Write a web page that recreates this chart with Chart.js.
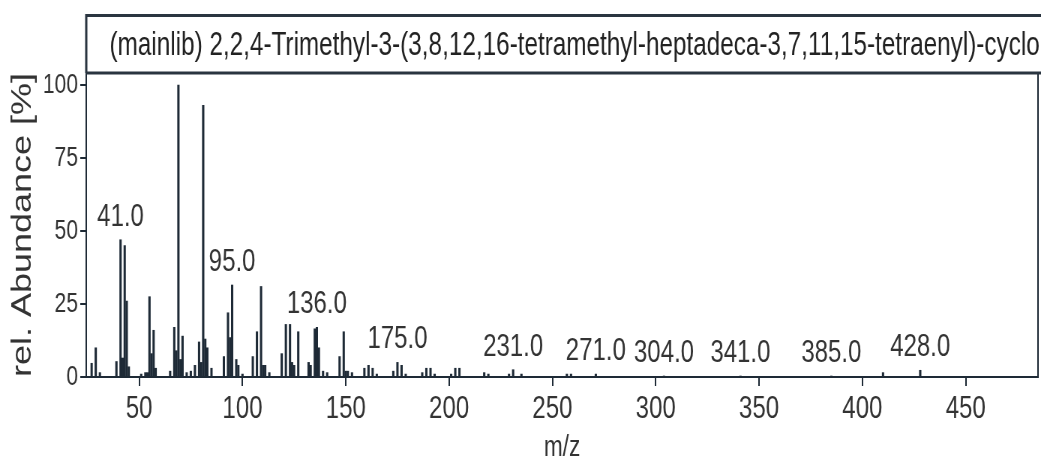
<!DOCTYPE html>
<html><head><meta charset="utf-8">
<script src="https://cdn.jsdelivr.net/npm/chart.js@4.4.0/dist/chart.umd.min.js"></script>
<style>
html,body{margin:0;padding:0;background:#fff;overflow:hidden;width:1041px;height:463px;}
#wrap{position:absolute;left:0;top:0;width:1388px;height:463px;transform:scaleX(0.75);transform-origin:0 0;}
canvas{display:block;}
</style></head><body>
<div id="wrap"><canvas id="c" width="1388" height="463" style="width:1388px;height:463px"></canvas></div>
<script>
const titleText = "(mainlib) 2,2,4-Trimethyl-3-(3,8,12,16-tetramethyl-heptadeca-3,7,11,15-tetraenyl)-cyclo";
const mzValues = [27,29,31,39,41,42,43,44,45,51,53,54,55,56,57,58,65,67,68,69,70,71,73,75,77,79,80,81,82,83,85,91,93,94,95,97,98,100,105,107,109,110,111,113,119,121,123,124,125,127,132,133,135,136,137,139,141,147,149,150,151,153,159,161,163,165,173,175,177,179,187,189,191,193,201,203,205,217,219,229,231,235,257,259,271,304,341,385,410,428];
const abundances = [4.7,10,1.5,5.3,47,6.5,45,26,3.5,1,1.5,1.5,27.5,8,16,3,2,17,9,100,6,14,1.5,2,4,12,5,93,13,10,3,7,22,13.5,31.5,6,4,1,7,15.5,31,4,4,1.5,8,18,18,5,4,15.5,5,4,16.5,17,10,2,1.5,7,15.5,2,2,1.5,3,4,3,1,2,5,4,1,1.5,3,3,1,1,3,3,1.5,1,1,2.5,1,1,1,1,0.3,0.3,0.3,1.5,2.3];
const labeledPeaks = [41,95,136,175,231,271,304,341,385,428];
const xTicks = [50,100,150,200,250,300,350,400,450];
const yTicks = [0,25,50,75,100];
const xTitle = "m/z";
const yTitle = "rel. Abundance [%]";

const FONT = "'Liberation Sans', Arial, Helvetica, sans-serif";
const TEXT = '#333333';
const INK = '#1e2a36';

const decor = {
  id: 'decor',
  afterDatasetsDraw(chart) {
    const {ctx, chartArea: a, scales: {x, y}} = chart;
    ctx.save();
    ctx.fillStyle = TEXT;
    ctx.font = "32px " + FONT;
    ctx.textAlign = 'center';
    ctx.textBaseline = 'alphabetic';
    labeledPeaks.forEach(mz => {
      const i = mzValues.indexOf(mz);
      const v = i >= 0 ? abundances[i] : 0;
      const px = x.getPixelForValue(mz);
      const py = y.getPixelForValue(v) - 14;
      ctx.fillText(mz.toFixed(1), px, py);
    });
    ctx.strokeStyle = INK;
    ctx.lineWidth = 2;
    ctx.strokeRect(a.left, a.top, a.right - a.left, a.bottom - a.top);
    ctx.lineWidth = 3;
    ctx.strokeStyle = '#2a3540';
    ctx.beginPath();
    ctx.moveTo(a.right + 40, 15.5);
    ctx.lineTo(a.left, 15.5);
    ctx.lineTo(a.left, a.top);
    ctx.stroke();
    ctx.beginPath();
    ctx.moveTo(a.left, a.top);
    ctx.lineTo(a.right + 40, a.top);
    ctx.stroke();
    ctx.fillStyle = '#222';
    ctx.font = "32.4px " + FONT;
    ctx.textAlign = 'left';
    ctx.textBaseline = 'middle';
    ctx.fillText(titleText, a.left + 31, 46);
    ctx.restore();
  }
};

new Chart(document.getElementById('c'), {
  type: 'bar',
  data: {
    datasets: [{
      data: mzValues.map((m, i) => ({x: m, y: abundances[i]})),
      backgroundColor: INK,
      borderWidth: 0,
      barThickness: 2.4,
      grouped: false
    }]
  },
  options: {
    responsive: false,
    animation: false,
    devicePixelRatio: 1,
    layout: {padding: {left: 0, right: 4, top: 73, bottom: 0}},
    plugins: {legend: {display: false}, tooltip: {enabled: false}, title: {display: false}},
    scales: {
      x: {
        type: 'linear',
        offset: false,
        min: 24.4,
        max: 485,
        afterBuildTicks: s => { s.ticks = xTicks.map(v => ({value: v})); },
        afterFit: s => { s.height = 86; },
        grid: {display: true, offset: false, drawOnChartArea: false, drawTicks: true, tickLength: 9, color: INK, lineWidth: 2},
        border: {display: true, color: INK, width: 2},
        ticks: {color: TEXT, font: {family: FONT, size: 32}, padding: 4, maxRotation: 0, autoSkip: false},
        title: {display: true, text: xTitle, color: TEXT, font: {family: FONT, size: 30, lineHeight: 1}, padding: {top: 0, bottom: 0}}
      },
      y: {
        type: 'linear',
        min: 0,
        max: 104.1,
        afterBuildTicks: s => { s.ticks = yTicks.map(v => ({value: v})); },
        afterFit: s => { s.width = 115; },
        grid: {display: true, drawOnChartArea: false, drawTicks: true, tickLength: 8, color: INK, lineWidth: 2},
        border: {display: true, color: INK, width: 2},
        ticks: {color: TEXT, font: {family: FONT, size: 28}, padding: 3},
        title: {display: true, text: yTitle, color: TEXT, font: {family: FONT, size: 36, lineHeight: 1}, padding: {top: 13, bottom: 0}}
      }
    }
  },
  plugins: [decor]
});
</script>
</body></html>
